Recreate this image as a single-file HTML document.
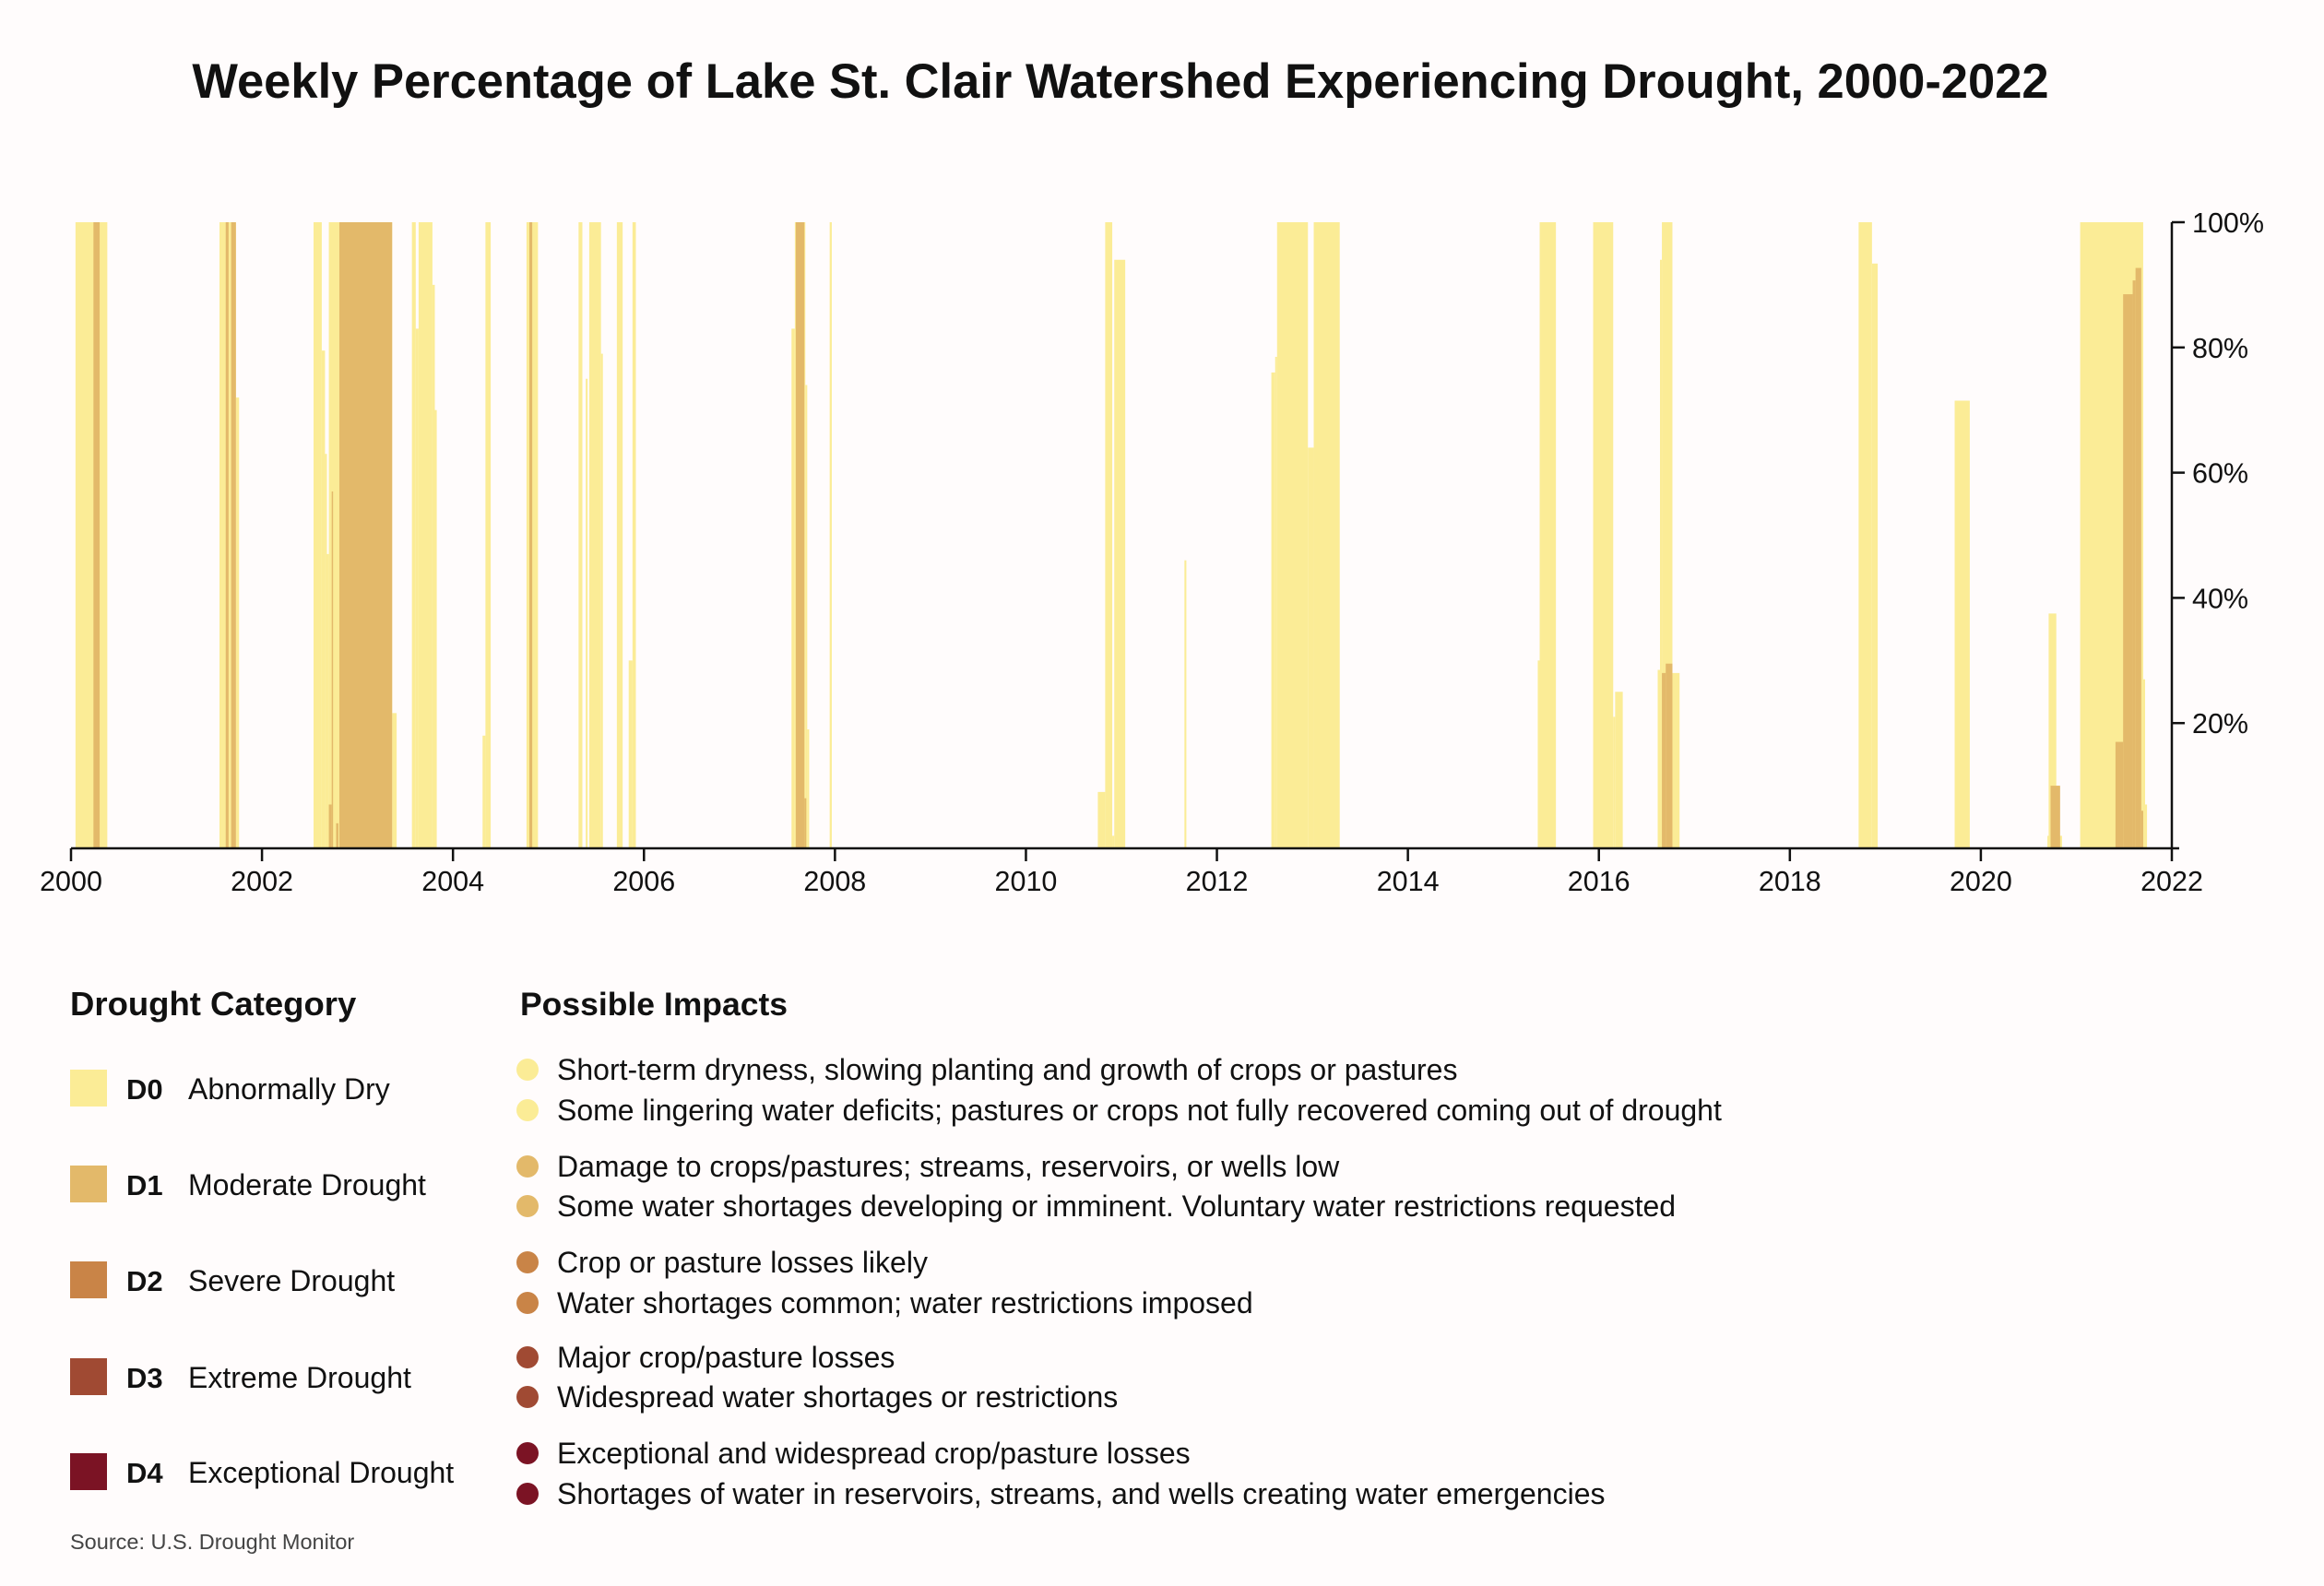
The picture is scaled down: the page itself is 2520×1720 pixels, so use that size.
<!DOCTYPE html>
<html><head><meta charset="utf-8">
<style>
html,body{margin:0;padding:0;background:#fffcfc;}
body{width:2520px;height:1720px;overflow:hidden;font-family:"Liberation Sans",sans-serif;}
svg{display:block}
</style></head>
<body>
<svg id="chart" width="2520" height="1720" viewBox="0 0 2520 1720">
<rect x="0" y="0" width="2520" height="1720" fill="#fffcfc"/>
<text x="1215" y="106" text-anchor="middle" font-family="Liberation Sans, sans-serif" font-weight="bold" font-size="52.5" fill="#111">Weekly Percentage of Lake St. Clair Watershed Experiencing Drought, 2000-2022</text>
<g id="bars"></g>
<g id="axes"></g>

<text x="76" y="1101" font-weight="bold" font-size="36.5" fill="#111">Drought Category</text>
<g><rect x="76" y="1160" width="40" height="40" fill="#fbec96"/><text x="137" y="1192" font-weight="bold" font-size="31" fill="#111">D0</text><text x="204" y="1192" font-size="32" fill="#111">Abnormally Dry</text></g>
<g><rect x="76" y="1264" width="40" height="40" fill="#e3b96a"/><text x="137" y="1296" font-weight="bold" font-size="31" fill="#111">D1</text><text x="204" y="1296" font-size="32" fill="#111">Moderate Drought</text></g>
<g><rect x="76" y="1368" width="40" height="40" fill="#c98447"/><text x="137" y="1400" font-weight="bold" font-size="31" fill="#111">D2</text><text x="204" y="1400" font-size="32" fill="#111">Severe Drought</text></g>
<g><rect x="76" y="1473" width="40" height="40" fill="#a04a33"/><text x="137" y="1505" font-weight="bold" font-size="31" fill="#111">D3</text><text x="204" y="1505" font-size="32" fill="#111">Extreme Drought</text></g>
<g><rect x="76" y="1576" width="40" height="40" fill="#7b1324"/><text x="137" y="1608" font-weight="bold" font-size="31" fill="#111">D4</text><text x="204" y="1608" font-size="32" fill="#111">Exceptional Drought</text></g>

<text x="564" y="1101" font-weight="bold" font-size="35.5" fill="#111">Possible Impacts</text>
<g font-size="32" fill="#111">
<circle cx="572" cy="1160" r="12" fill="#fbec96"/><text x="604" y="1171">Short-term dryness, slowing planting and growth of crops or pastures</text>
<circle cx="572" cy="1204" r="12" fill="#fbec96"/><text x="604" y="1215">Some lingering water deficits; pastures or crops not fully recovered coming out of drought</text>
<circle cx="572" cy="1265" r="12" fill="#e3b96a"/><text x="604" y="1276">Damage to crops/pastures; streams, reservoirs, or wells low</text>
<circle cx="572" cy="1308" r="12" fill="#e3b96a"/><text x="604" y="1319">Some water shortages developing or imminent. Voluntary water restrictions requested</text>
<circle cx="572" cy="1369" r="12" fill="#c98447"/><text x="604" y="1380">Crop or pasture losses likely</text>
<circle cx="572" cy="1413" r="12" fill="#c98447"/><text x="604" y="1424">Water shortages common; water restrictions imposed</text>
<circle cx="572" cy="1472" r="12" fill="#a04a33"/><text x="604" y="1483">Major crop/pasture losses</text>
<circle cx="572" cy="1515" r="12" fill="#a04a33"/><text x="604" y="1526">Widespread water shortages or restrictions</text>
<circle cx="572" cy="1576" r="12" fill="#7b1324"/><text x="604" y="1587">Exceptional and widespread crop/pasture losses</text>
<circle cx="572" cy="1620" r="12" fill="#7b1324"/><text x="604" y="1631">Shortages of water in reservoirs, streams, and wells creating water emergencies</text>
</g>
<text x="76" y="1680" font-size="23.5" fill="#444">Source: U.S. Drought Monitor</text>
</svg>
<script>
// D0+ coverage segments (decimal years, percent)
const d0Start = [2000.047,2001.555,2001.727,2002.54,2002.626,2002.66,2002.68,2002.70,2002.81,2003.363,2003.57,2003.61,2003.64,2003.785,2003.81,2004.31,2004.34,2004.77,2005.315,2005.39,2005.427,2005.55,2005.716,2005.84,2005.88,2007.545,2007.58,2007.69,2007.71,2007.945,2010.753,2010.83,2010.904,2010.925,2011.66,2012.57,2012.61,2012.63,2012.953,2013.014,2015.36,2015.38,2015.94,2016.15,2016.17,2016.616,2016.64,2016.66,2016.77,2018.72,2018.86,2019.726,2020.697,2020.71,2020.79,2020.82,2021.04,2021.70,2021.72];
const d0End   = [2000.38,2001.727,2001.76,2002.626,2002.66,2002.68,2002.70,2002.81,2003.363,2003.41,2003.61,2003.64,2003.785,2003.81,2003.83,2004.34,2004.395,2004.89,2005.355,2005.41,2005.55,2005.57,2005.777,2005.88,2005.915,2007.58,2007.69,2007.71,2007.73,2007.967,2010.83,2010.904,2010.925,2011.04,2011.68,2012.61,2012.63,2012.953,2013.014,2013.286,2015.38,2015.55,2016.15,2016.17,2016.25,2016.64,2016.66,2016.77,2016.845,2018.86,2018.92,2019.884,2020.71,2020.79,2020.82,2020.85,2021.70,2021.72,2021.74];
const d0Pct   = [100,100,72,100,79.5,63,47,100,100,21.6,100,83,100,90,70,18,100,100,100,75,100,79,100,30,100,83,100,74,19,100,9,100,2,94,46,76,78.5,100,64,100,30,100,100,21,25,28.5,94,100,28,100,93.4,71.5,2,37.5,10,2,100,27,7];
// D1+ coverage segments
const d1Start = [2000.235,2001.62,2001.677,2002.70,2002.73,2002.776,2002.81,2004.80,2007.59,2007.68,2016.66,2016.70,2020.73,2021.41,2021.49,2021.59,2021.62,2021.68];
const d1End   = [2000.30,2001.65,2001.727,2002.73,2002.74,2002.80,2003.363,2004.83,2007.68,2007.70,2016.70,2016.77,2020.83,2021.49,2021.59,2021.62,2021.68,2021.70];
const d1Pct   = [100,100,100,7,57,4,100,100,100,8,28,29.5,10,17,88.5,90.7,92.7,6];
const xTicks = [2000,2002,2004,2006,2008,2010,2012,2014,2016,2018,2020,2022];
const yTicks = [20,40,60,80,100];

const NS="http://www.w3.org/2000/svg";
const X0=77,X1=2355,Y0=920,Y1=241;
function xs(v){return X0+(v-2000)/22*(X1-X0);}
function ys(p){return Y0-p/100*(Y0-Y1);}
const bars=document.getElementById('bars');
function drawSeries(st,en,pc,color,name){
  for(let i=0;i<st.length;i++){
    const r=document.createElementNS(NS,'rect');
    const x=xs(st[i]),w=Math.max(1.5,xs(en[i])-x);
    r.setAttribute('x',x);r.setAttribute('width',w);
    r.setAttribute('y',ys(pc[i]));r.setAttribute('height',Y0-ys(pc[i]));
    r.setAttribute('fill',color);
    
    
    bars.appendChild(r);
  }
}
drawSeries(d0Start,d0End,d0Pct,'#fbec96','bar-d0');
drawSeries(d1Start,d1End,d1Pct,'#e3b96a','bar-d1');

const axes=document.getElementById('axes');
function el(tag,attrs){const e=document.createElementNS(NS,tag);for(const k in attrs)e.setAttribute(k,attrs[k]);axes.appendChild(e);return e;}
const xl=el('line',{x1:X0,x2:X1+8,y1:Y0,y2:Y0,stroke:'#111','stroke-width':2.5});


const yl=el('line',{x1:X1,x2:X1,y1:Y1,y2:Y0,stroke:'#111','stroke-width':2.5});


xTicks.forEach(t=>{
  el('line',{x1:xs(t),x2:xs(t),y1:Y0,y2:Y0+14,stroke:'#111','stroke-width':2.5});
  const tx=el('text',{x:xs(t),y:Y0+46,'text-anchor':'middle','font-size':30.5,fill:'#111'});
  tx.textContent=t;
  
  
});
yTicks.forEach(t=>{
  el('line',{x1:X1,x2:X1+14,y1:ys(t),y2:ys(t),stroke:'#111','stroke-width':2.5});
  const tx=el('text',{x:X1+22,y:ys(t)+11,'font-size':30.5,fill:'#111'});
  tx.textContent=t+'%';
  
  
});
</script>
</body></html>
